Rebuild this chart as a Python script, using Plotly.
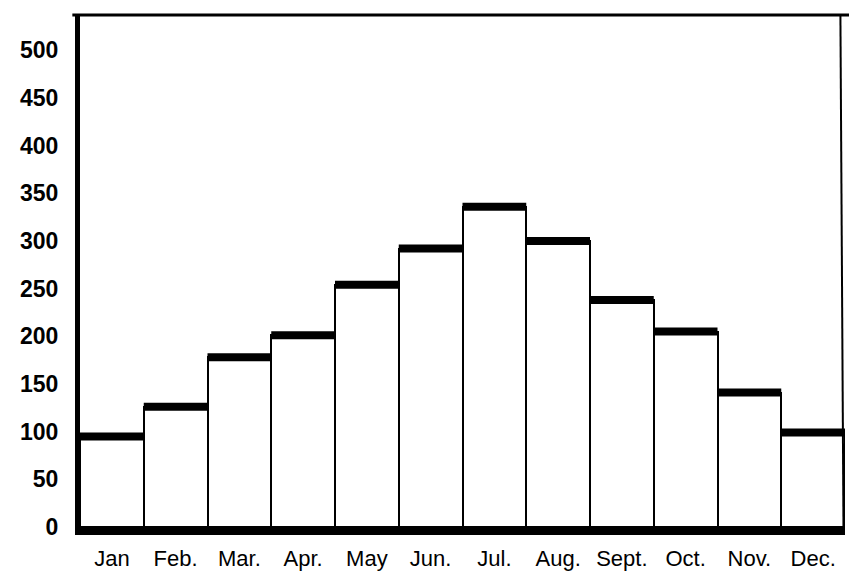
import plotly.graph_objects as go

months = ["Jan", "Feb.", "Mar.", "Apr.", "May", "Jun.", "Jul.", "Aug.", "Sept.", "Oct.", "Nov.", "Dec."]
values = [95, 126, 178, 201, 254, 292, 336, 300, 238, 205, 141, 99]
y_ticks = [0, 50, 100, 150, 200, 250, 300, 350, 400, 450, 500]

xs = list(range(len(months)))

fig = go.Figure()
fig.add_trace(go.Bar(
    x=xs, y=values, width=1,
    marker=dict(color="white", line=dict(color="black", width=2)),
    hoverinfo="skip", showlegend=False,
))

# thick top strokes of each bar
tx, ty = [], []
for i, v in zip(xs, values):
    tx += [i - 0.5, i + 0.5, None]
    ty += [v, v, None]
fig.add_trace(go.Scatter(
    x=tx, y=ty, mode="lines",
    line=dict(color="black", width=8),
    hoverinfo="skip", showlegend=False,
))

font = "Liberation Sans"
fig.update_layout(
    width=849, height=570,
    margin=dict(l=72, r=12, t=7, b=51),
    paper_bgcolor="white", plot_bgcolor="white",
    font=dict(family=font, color="black"),
    bargap=0,
    xaxis=dict(
        range=[-0.5, len(months) - 0.5],
        tickmode="array", tickvals=xs, ticktext=months,
        tickfont=dict(size=22, family=font),
        showgrid=False, zeroline=False,
        showline=True, linecolor="black", linewidth=8,
        ticks="", ticklabelstandoff=5, automargin=False,
    ),
    yaxis=dict(
        range=[0, 537],
        tickmode="array", tickvals=y_ticks, ticktext=[str(t) for t in y_ticks],
        tickfont=dict(size=23, family=font, weight="bold"),
        showgrid=False, zeroline=False,
        showline=True, linecolor="black", linewidth=5,
        ticks="", ticklabelstandoff=12, automargin=False,
    ),
    shapes=[
        dict(type="line", xref="paper", yref="paper", x0=-0.01, x1=1.02, y0=1, y1=1,
             line=dict(color="black", width=3)),
        dict(type="line", xref="paper", yref="paper", x0=0.994, x1=0.998, y0=1, y1=0,
             line=dict(color="black", width=2)),
    ],
)

fig.write_html("out.html")
